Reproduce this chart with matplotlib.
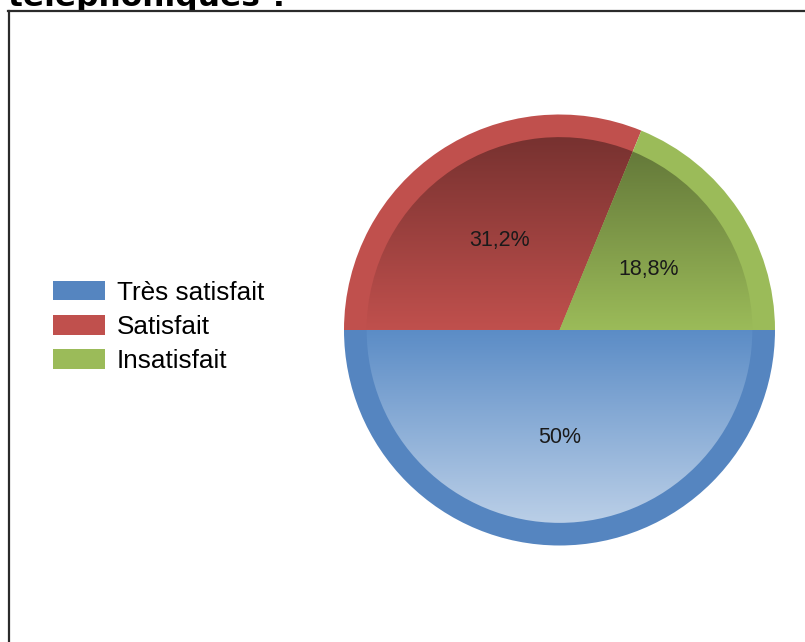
import numpy as np
import matplotlib.pyplot as plt
from matplotlib.patches import Wedge, Rectangle
from matplotlib.lines import Line2D
from matplotlib.colors import to_rgb

# data
categories = ["Très satisfait", "Satisfait", "Insatisfait"]
shares = [50.0, 31.2, 18.8]
pct_labels = ["50%", "31,2%", "18,8%"]
colors = ["#5585c0", "#c0504d", "#9bbb59"]

fig = plt.figure(figsize=(8.05, 6.42), dpi=100)

# cut-off title from the page above (its lower part is hidden by the chart box)
fig.text(8 / 805, 1 - 6 / 642, "téléphoniques ?", fontsize=22.5, fontweight="bold",
         family="DejaVu Sans", ha="left", va="baseline", color="black", zorder=1)

# white chart box with a dark top and left edge
fig.patches.append(Rectangle((8 / 805, 0), 1, 1 - 10 / 642, transform=fig.transFigure,
                             facecolor="white", edgecolor="none", zorder=2))
fig.lines.append(Line2D([8 / 805, 1], [1 - 10.5 / 642] * 2, transform=fig.transFigure,
                        color="#2b2b2b", linewidth=1.6, zorder=3))
fig.lines.append(Line2D([8.5 / 805] * 2, [0, 1 - 10.5 / 642], transform=fig.transFigure,
                        color="#2b2b2b", linewidth=1.6, zorder=3))

R = 215.5
cx, cy = 559.5, 330
ax = fig.add_axes([(cx - R) / 805, (642 - cy - R) / 642, 2 * R / 805, 2 * R / 642])
ax.set_zorder(5)
wedges, _ = ax.pie(shares, colors=colors, startangle=0, counterclock=False,
                   radius=1.0, wedgeprops=dict(linewidth=0))
ax.set_xlim(-1, 1)
ax.set_ylim(-1, 1)
ax.set_aspect("equal")
ax.axis("off")

# inner disc with a vertical gradient (dark at top, light at bottom)
inner = 0.895
ys = np.linspace(1, -1, 400)
for w, c in zip(wedges, colors):
    base = np.array(to_rgb(c))
    if c == "#5585c0":
        base = np.array(to_rgb("#5b8cc6"))
    rows = []
    for y in ys:
        if y >= 0:
            col = base * (1 - 0.38 * min(y / inner, 1))
        else:
            t = 0.58 * min(-y / inner, 1)
            col = base * (1 - t) + t
        rows.append(col)
    img = np.tile(np.array(rows)[:, None, :], (1, 2, 1))
    clip = Wedge((0, 0), inner, w.theta1, w.theta2, transform=ax.transData)
    im = ax.imshow(img, extent=[-1, 1, -1, 1], aspect="auto", interpolation="bilinear", zorder=2)
    im.set_clip_path(clip)

# percentage labels
for w, lab in zip(wedges, pct_labels):
    ang = np.deg2rad((w.theta1 + w.theta2) / 2)
    ax.text(0.5 * np.cos(ang), 0.5 * np.sin(ang), lab, ha="center", va="center",
            fontsize=15.5, family="Liberation Sans", color="#1a1a1a", zorder=3)
ax.set_xlim(-1, 1)
ax.set_ylim(-1, 1)

leg = fig.legend(wedges, categories, loc="center left", bbox_to_anchor=(53 / 805, 1 - 327 / 642),
                 frameon=False, prop={"family": "Liberation Sans", "size": 18.8},
                 handlelength=2.0, handleheight=0.77, handletextpad=0.45,
                 labelspacing=0.39, borderpad=0, borderaxespad=0)
leg.set_zorder(6)

fig.savefig("out.png", dpi=100)
